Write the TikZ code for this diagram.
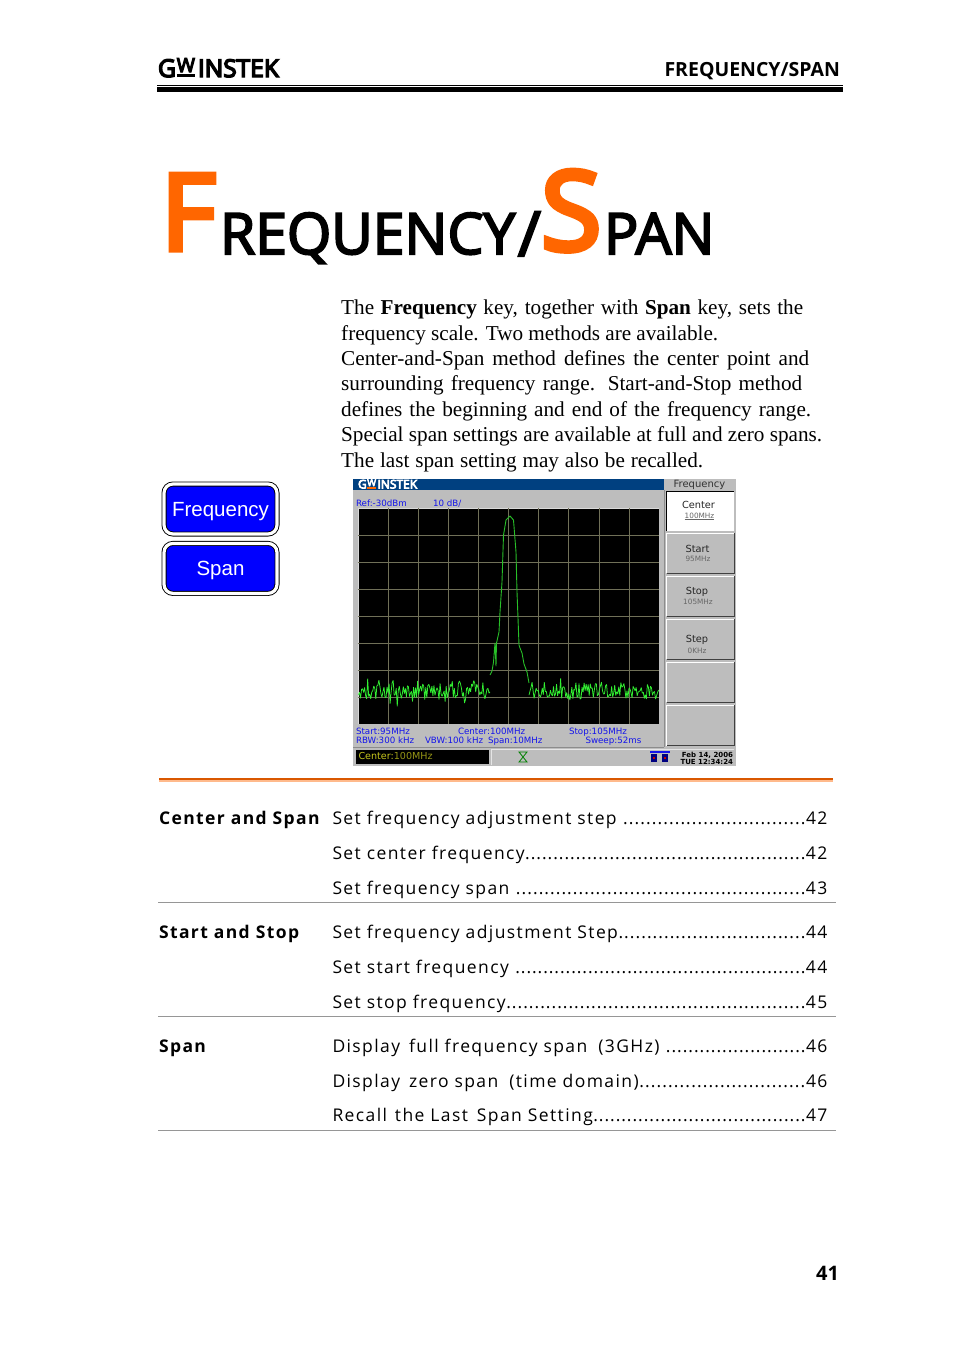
\documentclass[tikz,border=0pt]{standalone}
\usepackage{fontspec}
\setmainfont{Liberation Serif}
\newfontfamily\headfont{Open Sans}
\newfontfamily\titlefont[FakeBold=3.5]{Open Sans}
\newfontfamily\bigfont[FakeBold=5]{Open Sans}
\newfontfamily\logofont[FakeBold=6]{Open Sans}
\newfontfamily\tocfont[LetterSpace=8]{Open Sans}
\newfontfamily\keyfont{Liberation Sans}
\newfontfamily\scrfont{DejaVu Sans}
\usetikzlibrary{positioning}
\definecolor{gworange}{RGB}{255,102,0}
\definecolor{barblue}{RGB}{0,64,128}
\definecolor{scrgray}{RGB}{189,189,189}
\definecolor{gridolive}{RGB}{112,112,88}
\definecolor{tracegreen}{RGB}{50,240,50}
\definecolor{scrblue}{RGB}{20,20,235}
\definecolor{statusyellow}{RGB}{200,200,30}
\definecolor{rulegray}{RGB}{150,150,150}
\tikzset{
  txt/.style={inner sep=0pt, outer sep=0pt, anchor=base west},
  txtr/.style={inner sep=0pt, outer sep=0pt, anchor=base east},
  txtc/.style={inner sep=0pt, outer sep=0pt, anchor=base},
  keybtn/.style={draw=black, line width=0.9pt, double=white, double distance=3.2pt, fill=blue, text=white,
    rounded corners=9pt, minimum width=113pt, minimum height=50pt, inner sep=0pt, text height=16pt, text depth=2pt,
    font=\keyfont\fontsize{20.5}{24}\selectfont},
  scrtxt/.style={txt, text=scrblue, font=\scrfont\fontsize{8.7}{9}\selectfont},
  softtxt/.style={txtc, text=black!85, font=\scrfont\fontsize{9.8}{10}\selectfont},
  softsub/.style={txtc, text=black!60, font=\scrfont\fontsize{7.3}{8}\selectfont},
  tocitem/.style={txt, font=\tocfont\fontsize{17.5}{22}\selectfont},
  tochead/.style={txt, font=\tocfont\bfseries\fontsize{17.5}{22}\selectfont},
  tocrule/.style={rulegray, line width=0.8pt}
}
\newcommand{\softbevel}[4]{%
  \draw[white, line width=1pt] (#1,#4) -- (#1,#2) -- (#3,#2);
  \draw[black!75, line width=1.3pt] (#3,#2) -- (#3,#4) -- (#1,#4);
}
\newcommand{\gwlogo}[1]{G\kern.04em\setbox0\hbox{\scalebox{.8}{W}}\raisebox{.2em}{\copy0}\kern-\wd0\textcolor{#1}{\rule{\wd0}{.12em}}\kern.12em INSTEK}
\newcommand{\introline}[2]{\makebox[#1pt][s]{#2}}
\begin{document}
\begin{tikzpicture}[x=1pt, y=-1pt]
  \useasboundingbox[fill=white] (0,0) rectangle (954,1350);

  % header
  \node[txt, font=\logofont\fontsize{24.5}{26}\selectfont] (logo) at (158,77) {\gwlogo{black}};
  \node[txtr, font=\headfont\bfseries\fontsize{19.5}{22}\selectfont] (section) at (840,76) {FREQUENCY/SPAN};
  \coordinate (hdl) at (157,85.5);
  \coordinate (hdr) at (843,85.5);
  \draw[black, line width=1pt] (hdl) -- (hdr);
  \fill[black] (157,87) rectangle (843,92);

  % title
  \node[txt, text=gworange, font=\bigfont\fontsize{106}{110}\selectfont] (bigf) at (161,250) {F};
  \node[txt, font=\titlefont\fontsize{57}{60}\selectfont] (requency) at (220,254) {REQUENCY};
  \node[txt, font=\titlefont\fontsize{62}{60}\selectfont] (slash) at (518,256) {/};
  \node[txt, text=gworange, font=\bigfont\fontsize{110}{110}\selectfont] (bigs) at (541,250) {S};
  \node[txt, font=\titlefont\fontsize{57}{60}\selectfont] (pan) at (604,254) {PAN};

  % intro
  \node[inner sep=0pt, anchor=north west, align=left, font=\fontsize{21.2}{25.35}\selectfont] (intro) at (341,300) {%
    \introline{462}{The \textbf{Frequency} key, together with \textbf{Span} key, sets the}\\
    \introline{377}{frequency scale. Two methods are available.}\\
    \introline{468}{Center-and-Span method defines the center point and}\\
    \introline{461}{surrounding frequency range. Start-and-Stop method}\\
    \introline{470}{defines the beginning and end of  the frequency range.}\\
    \introline{481}{Special span settings are available at full and zero spans.}\\
    \introline{362}{The last span setting may also be recalled.}};

  % front panel keys
  \node[keybtn] (freqkey) at (220.5,509) {Frequency};
  \node[keybtn, below=8.5pt of freqkey] (spankey) {Span};

  % screen
  \fill[scrgray] (353,479) rectangle (736,765.5);
  \fill[barblue] (353,479) rectangle (664,490);
  \node[txt, text=white, font=\logofont\fontsize{12}{12}\selectfont] (scrlogo) at (358,488.5) {\gwlogo{gworange}};
  \draw[black!45, line width=1pt] (664,490) -- (664,747);
  \draw[black!45, line width=1pt] (353,747.5) -- (664,747.5);
  \node[txtc, text=black!80, font=\scrfont\fontsize{10}{10}\selectfont] (softtitle) at (699.5,487.5) {Frequency};
  \node[scrtxt] (ref) at (356,506) {Ref:-30dBm};
  \node[scrtxt] (div) at (433,506) {10 dB/};

  % plot
  \fill[black] (358.3,508.3) rectangle (659,724.3);
  \draw[white!85!black, line width=0.7pt] (358.3,724.3) -- (358.3,508.3) -- (659,508.3);
  \foreach \i in {1,...,9}
    \draw[gridolive, line width=0.7pt] ({358.3+\i*30.07},508.3) -- ({358.3+\i*30.07},724.3);
  \foreach \i in {1,...,7}
    \draw[gridolive, line width=0.7pt] (358.3,{508.3+\i*27}) -- (659,{508.3+\i*27});
  \pgfmathsetseed{41}
  \draw[tracegreen, line width=0.75pt, line join=bevel] plot[domain=358.5:490, samples=130] (\x,{691+8*rand+14*rand*rand*rand});
  \draw[tracegreen!80!black, line width=0.9pt, line join=round] (490,675) -- (492,671) -- (493.5,662) -- (495,643) -- (496,666) -- (496.5,643) -- (499,632) -- (500,612) -- (502,582) -- (503.5,535) -- (506,520) -- (510,516) -- (513.5,520) -- (516,552) -- (517,592) -- (518,618) -- (519,645) -- (520,648) -- (522,653) -- (524,664) -- (527,672) -- (529,683);
  \draw[tracegreen, line width=0.75pt, line join=bevel] plot[domain=529:658.6, samples=128] (\x,{691+8*rand+14*rand*rand*rand});

  % readout lines
  \node[scrtxt] (startlbl) at (356,734) {Start:95MHz};
  \node[scrtxt] (centerlbl) at (458,734) {Center:100MHz};
  \node[scrtxt] (stoplbl) at (569,734) {Stop:105MHz};
  \node[scrtxt] (rbwlbl) at (356,743) {RBW:300 kHz};
  \node[scrtxt] (vbwlbl) at (425,743) {VBW:100 kHz};
  \node[scrtxt] (spanlbl) at (488,743) {Span:10MHz};
  \node[scrtxt] (sweeplbl) at (585.5,743) {Sweep:52ms};

  % soft keys
  \fill[white] (666.7,491.7) rectangle (734.3,531);
  \draw[black, line width=1.2pt] (666.7,531) -- (666.7,491.7) -- (734.3,491.7);
  \softbevel{666.7}{533.3}{734.3}{573.3}
  \softbevel{666.7}{576}{734.3}{616.3}
  \softbevel{666.7}{619}{734.3}{659.3}
  \softbevel{666.7}{662}{734.3}{702.3}
  \softbevel{666.7}{705}{734.3}{745.7}
  \node[softtxt] (softcenter) at (698.5,508.5) {Center};
  \node[softsub] (softcentersub) at (699.5,518) {\underline{100MHz}};
  \node[softtxt] (softstart) at (697.5,552) {Start};
  \node[softsub] (softstartsub) at (698,561) {95MHz};
  \node[softtxt] (softstop) at (697,594) {Stop};
  \node[softsub] (softstopsub) at (698,604) {105MHz};
  \node[softtxt] (softstep) at (697,642) {Step};
  \node[softsub] (softstepsub) at (697,653) {0KHz};

  % status line
  \draw[white!90!black, line width=0.8pt] (491,765) -- (491,749.5) -- (734,749.5);
  \fill[black] (356,750) rectangle (489,764.3);
  \node[txt, text=statusyellow, font=\scrfont\fontsize{9.6}{10}\selectfont] (statuscenter) at (358.5,759.5) {Center:\textcolor{statusyellow!75!black}{ 100MHz}};
  \draw[green!50!black, line width=0.8pt] (519,752) -- (527,752) -- (519,762) -- (527,762) -- cycle;
  \fill[scrblue] (650,751) rectangle (670,752.5);
  \fill[blue!50!black] (651,754) rectangle (657,762);
  \fill[blue!50!black] (662,754) rectangle (668,762);
  \fill[red!80!black] (653,757) rectangle (655,759);
  \fill[red!80!black] (664,757) rectangle (666,759);
  \node[txtr, font=\scrfont\bfseries\fontsize{7}{7}\selectfont] (scrdate) at (733,757) {Feb 14, 2006};
  \node[txtr, font=\scrfont\bfseries\fontsize{7}{7}\selectfont] (scrtime) at (733,764) {TUE 12:34:24};

  % orange rule
  \fill[gworange!85!black] (159,778) rectangle (833,780);
  \fill[gworange!45] (159,780) rectangle (833,781.5);

  % contents
  \node[tochead] (headcenter) at (159,824) {Center and Span};
  \node[tochead] (headstart) at (159,938) {Start and Stop};
  \node[tochead] (headspan) at (159,1052) {Span};
  \foreach \y/\entry/\pg [count=\i] in {
    824.5/{Set frequency adjustment step }/42,
    859/{Set center frequency}/42,
    894/{Set frequency span }/43,
    938/{Set frequency adjustment Step}/44,
    973/{Set start frequency }/44,
    1008/{Set stop frequency}/45,
    1052/{Display\kern3pt{} full frequency span\kern5pt{} (3GHz) }/46,
    1087/{Display\kern3pt{} zero span\kern5pt{} (time domain)}/46,
    1121/{Recall\kern2pt{} the Last\kern3pt{} Span Setting}/47}
    \node[tocitem] (toc\i) at (332.5,\y) {\hbox to 495pt{\entry\xleaders\hbox to 5.6pt{\hss.\hss}\hfill\pg}};
  \draw[tocrule] (158,902.5) -- (836,902.5);
  \draw[tocrule] (158,1016.5) -- (836,1016.5);
  \draw[tocrule] (158,1130.5) -- (836,1130.5);

  % page number
  \node[txtr, font=\headfont\bfseries\fontsize{20}{22}\selectfont] (pagenum) at (839,1280) {41};
\end{tikzpicture}
\end{document}
